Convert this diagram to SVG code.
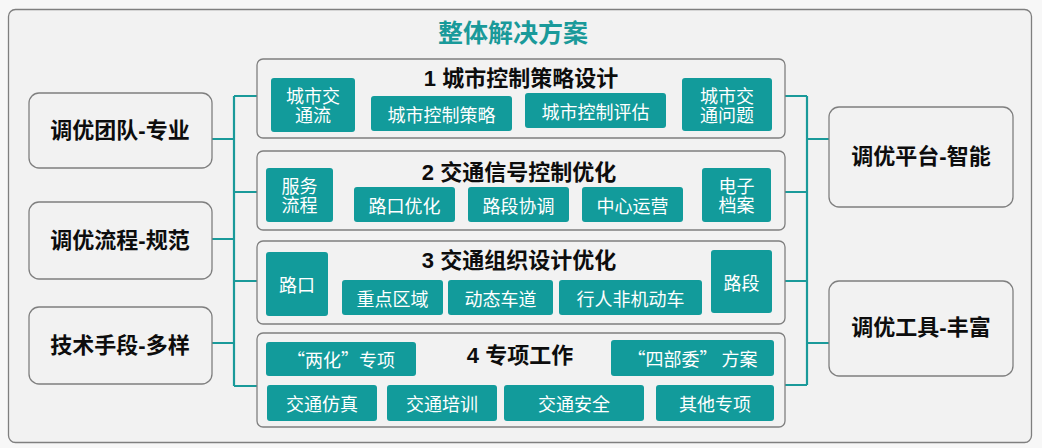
<svg xmlns="http://www.w3.org/2000/svg" width="1042" height="448" viewBox="0 0 1042 448">
<style>
.bg{fill:#f2f2f2;stroke:#7f7f7f;stroke-width:1.3}
.tb{fill:#129b9b}
.tt{font-family:"Noto Sans CJK SC","Liberation Sans",sans-serif;font-size:18px;fill:#ffffff;text-anchor:middle;dominant-baseline:central}
.bt{font-family:"Liberation Sans","Noto Sans CJK SC",sans-serif;font-weight:bold;font-size:22px;fill:#0d0d0d;text-anchor:middle;dominant-baseline:central}
.st{font-family:"Liberation Sans","Noto Sans CJK SC",sans-serif;font-weight:bold;font-size:22px;fill:#0d0d0d;text-anchor:middle;dominant-baseline:central}
.ln{fill:none;stroke:#1a9a9a;stroke-width:2.2}
</style>
<rect x="0" y="0" width="1042" height="448" fill="#f7f7f7"/>
<g id="frame">
<rect class="bg" x="8.5" y="9.5" width="1023" height="433" rx="7"/>
<text x="513" y="31" font-family="Noto Sans CJK SC,sans-serif" font-weight="bold" font-size="25" fill="#1a9a9a" text-anchor="middle" dominant-baseline="central">整体解决方案</text>
</g>
<g id="connectors">
<path class="ln" d="M212 139H234M212 239H234M212 343H234M234 96V386M234 96H257M234 192H257M234 281H257M234 386H257"/>
<path class="ln" d="M785 96H807M785 192H807M785 281H807M785 385H807M807 96V385M807 139H829M807 343H829"/>
</g>
<g id="left1"><rect class="bg" x="29" y="93" width="183" height="75" rx="10"/><text class="bt" x="120" y="130">调优团队-专业</text></g>
<g id="left2"><rect class="bg" x="29" y="202" width="183" height="77" rx="10"/><text class="bt" x="120" y="240">调优流程-规范</text></g>
<g id="left3"><rect class="bg" x="29" y="307" width="183" height="77" rx="10"/><text class="bt" x="120" y="345">技术手段-多样</text></g>
<g id="right1"><rect class="bg" x="829" y="107" width="184" height="100" rx="10"/><text class="bt" x="921" y="156">调优平台-智能</text></g>
<g id="right2"><rect class="bg" x="829" y="281" width="184" height="95" rx="10"/><text class="bt" x="921" y="327">调优工具-丰富</text></g>
<g id="sec1">
<rect class="bg" x="257" y="59" width="528" height="79" rx="6"/>
<text class="st" x="521" y="78">1 城市控制策略设计</text>
<rect class="tb" x="271" y="78" width="84" height="54" rx="3"/><text class="tt" x="313" y="95"><tspan x="313">城市交</tspan><tspan x="313" dy="19">通流</tspan></text>
<rect class="tb" x="371" y="96" width="141" height="35" rx="3"/><text class="tt" x="441.5" y="113.5">城市控制策略</text>
<rect class="tb" x="525" y="93" width="141" height="35" rx="3"/><text class="tt" x="595.5" y="110.5">城市控制评估</text>
<rect class="tb" x="682" y="78" width="90" height="53" rx="3"/><text class="tt" x="727" y="95"><tspan x="727">城市交</tspan><tspan x="727" dy="19">通问题</tspan></text>
</g>
<g id="sec2">
<rect class="bg" x="257" y="151" width="528" height="79" rx="6"/>
<text class="st" x="519" y="172">2 交通信号控制优化</text>
<rect class="tb" x="266" y="168" width="67" height="54" rx="3"/><text class="tt" x="299.5" y="185"><tspan x="299.5">服务</tspan><tspan x="299.5" dy="19">流程</tspan></text>
<rect class="tb" x="354" y="187" width="101" height="35" rx="3"/><text class="tt" x="404.5" y="204.5">路口优化</text>
<rect class="tb" x="468" y="187" width="101" height="35" rx="3"/><text class="tt" x="518.5" y="204.5">路段协调</text>
<rect class="tb" x="582" y="187" width="101" height="35" rx="3"/><text class="tt" x="632.5" y="204.5">中心运营</text>
<rect class="tb" x="702" y="168" width="69" height="54" rx="3"/><text class="tt" x="736.5" y="185"><tspan x="736.5">电子</tspan><tspan x="736.5" dy="19">档案</tspan></text>
</g>
<g id="sec3">
<rect class="bg" x="257" y="241" width="528" height="83" rx="6"/>
<text class="st" x="519" y="260">3 交通组织设计优化</text>
<rect class="tb" x="266" y="252" width="62" height="64" rx="3"/><text class="tt" x="297" y="284">路口</text>
<rect class="tb" x="342" y="280" width="101" height="35" rx="3"/><text class="tt" x="392.5" y="297.5">重点区域</text>
<rect class="tb" x="448" y="280" width="105" height="35" rx="3"/><text class="tt" x="500.5" y="297.5">动态车道</text>
<rect class="tb" x="559" y="280" width="143" height="35" rx="3"/><text class="tt" x="630.5" y="297.5">行人非机动车</text>
<rect class="tb" x="711" y="250" width="61" height="63" rx="3"/><text class="tt" x="741.5" y="281.5">路段</text>
</g>
<g id="sec4">
<rect class="bg" x="257" y="333" width="528" height="94" rx="6"/>
<text class="st" x="520" y="355">4 专项工作</text>
<rect class="tb" x="266" y="342" width="150" height="34" rx="3"/><text class="tt" x="341" y="359">“两化”专项</text>
<rect class="tb" x="611" y="340" width="163" height="36" rx="3"/><text class="tt" x="692.5" y="358">“四部委” 方案</text>
<rect class="tb" x="267" y="385" width="110" height="36" rx="3"/><text class="tt" x="322" y="403">交通仿真</text>
<rect class="tb" x="387" y="385" width="110" height="36" rx="3"/><text class="tt" x="442" y="403">交通培训</text>
<rect class="tb" x="504" y="385" width="140" height="36" rx="3"/><text class="tt" x="574" y="403">交通安全</text>
<rect class="tb" x="656" y="385" width="118" height="36" rx="3"/><text class="tt" x="715" y="403">其他专项</text>
</g>
</svg>
